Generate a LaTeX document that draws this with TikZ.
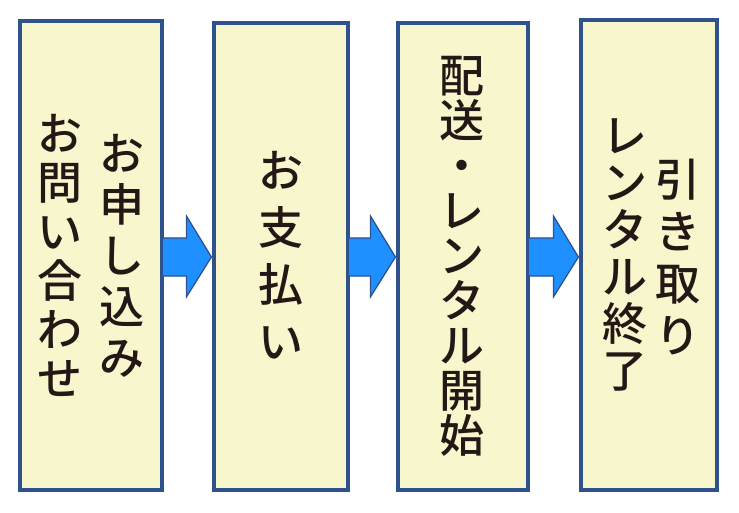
\documentclass[tikz,border=0pt]{standalone}
\usepackage{fontspec}
\newfontfamily\jpfont{Noto Sans CJK JP Medium}
\usetikzlibrary{calc}
\definecolor{boxfill}{HTML}{F8F6CC}
\definecolor{boxline}{HTML}{2F528F}
\definecolor{arrowfill}{HTML}{1E90FF}
\definecolor{inkblack}{HTML}{231815}
\tikzset{
  stagebox/.style={draw=boxline, line width=3.2pt, fill=boxfill, rectangle, inner sep=0pt},
  vtext/.style={inner sep=0pt, align=center, text=inkblack, font=\jpfont\fontsize{45}{#1}\selectfont},
  vtext/.default=49,
  blockarrow/.style={draw=boxline, line width=1.3pt, fill=arrowfill, line join=miter}
}
\begin{document}
\begin{tikzpicture}[x=1pt,y=-1pt]
\useasboundingbox (0,0) rectangle (739,513);
% boxes
\node[stagebox, minimum width=142pt, minimum height=469pt] (b1) at (91,255.5) {};
\node[stagebox, minimum width=134pt, minimum height=467pt] (b2) at (281,256.5) {};
\node[stagebox, minimum width=130pt, minimum height=467pt] (b3) at (463,256.5) {};
\node[stagebox, minimum width=136pt, minimum height=470pt] (b4) at (649,255) {};
% arrows
\foreach \a/\b in {b1/b2,b2/b3,b3/b4}{
  \draw[blockarrow] let \p1=(\a.east), \p2=(\b.west) in
    (\x1-1.5pt,-238pt) -- (\x2-26pt,-238pt) -- (\x2-26pt,-216pt) -- (\x2-1pt,-257pt)
    -- (\x2-26pt,-297pt) -- (\x2-26pt,-276pt) -- (\x1-1.5pt,-276pt) -- cycle;
}
% texts
\node[vtext=51] (t1a) at (122,256) {お\\申\\し\\込\\み};
\node[vtext=49] (t1b) at (60,255) {お\\問\\い\\合\\わ\\せ};
\node[vtext=57] (t2) at (281,255) {お\\支\\払\\い};
\node[vtext=45] (t3) at (462,256) {配\\送\\・\\レ\\ン\\タ\\ル\\開\\始};
\node[vtext=52] (t4a) at (678,257) {引\\き\\取\\り};
\node[vtext=47] (t4b) at (625,255) {レ\\ン\\タ\\ル\\終\\了};
\end{tikzpicture}
\end{document}
